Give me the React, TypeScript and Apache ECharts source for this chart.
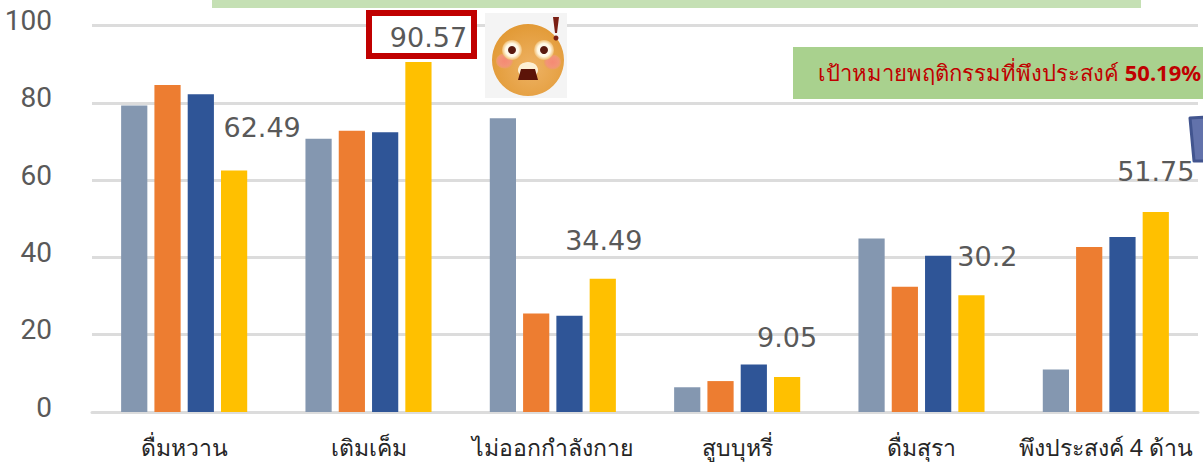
import React, { useEffect, useRef } from "react";
import * as echarts from "echarts";

const categories = ["ดื่มหวาน", "เติมเค็ม", "ไม่ออกกำลังกาย", "สูบบุหรี่", "ดื่มสุรา", "พึงประสงค์ 4 ด้าน"];
const series1 = [79.3, 70.7, 76, 6.4, 44.9, 11];
const series2 = [84.6, 72.8, 25.5, 8, 32.4, 42.7];
const series3 = [82.2, 72.4, 24.9, 12.3, 40.4, 45.3];
const series4 = [62.49, 90.57, 34.49, 9.05, 30.2, 51.75];
const labelOffsets = [[28, -24], [10, -6], [1, -20], [0, -21], [16, -20], [0, -22]];
const colors = ["#8497b0", "#ed7d31", "#2f5597", "#ffc000"];
const bannerText = "เป้าหมายพฤติกรรมที่พึงประสงค์ ";
const bannerValue = "50.19%";

export default function App() {
  const ref = useRef<HTMLDivElement>(null);
  useEffect(() => {
    const chart = echarts.init(ref.current!, undefined, { renderer: "svg" });
    const bar = (name: string, data: number[], color: string) => ({
      type: "bar", name, data, barGap: "27%", barCategoryGap: "31.6%",
      itemStyle: { color },
    });
    const last: any = bar("s4", series4, colors[3]);
    last.data = series4.map((value, i) => ({
      value,
      label: {
        show: true, position: "top", offset: labelOffsets[i],
        formatter: String(value),
        fontFamily: "DejaVu Sans", fontSize: 27, color: "#595959",
      },
    }));
    const face = new echarts.graphic.RadialGradient(0.55, 0.6, 0.6, [
      { offset: 0, color: "#eeb264" }, { offset: 1, color: "#e29a36" },
    ]);
    const eye = new echarts.graphic.RadialGradient(0.5, 0.5, 0.5, [
      { offset: 0, color: "#ffffff" }, { offset: 0.65, color: "#fff8e4" }, { offset: 1, color: "#f0bc70" },
    ]);
    const cheek = new echarts.graphic.RadialGradient(0.5, 0.5, 0.5, [
      { offset: 0, color: "#f58a74" }, { offset: 0.7, color: "#f39478" }, { offset: 1, color: "#eba060" },
    ]);
    chart.setOption({
      animation: false,
      grid: { left: 92, right: 5, top: 25.5, bottom: 53 },
      xAxis: {
        type: "category", data: categories,
        axisTick: { show: false },
        axisLine: { lineStyle: { color: "#dcdcdc", width: 3 } },
        axisLabel: { fontFamily: "Noto Sans, sans-serif", fontSize: 23, color: "#262626", margin: 23, interval: 0 },
      },
      yAxis: {
        type: "value", min: 0, max: 100, interval: 20,
        axisLine: { show: false }, axisTick: { show: false },
        splitLine: { lineStyle: { color: "#dcdcdc", width: 3 } },
        axisLabel: { fontFamily: "Roboto", fontSize: 28, color: "#595959", margin: 40, verticalAlign: "bottom", lineHeight: 10 },
      },
      series: [bar("s1", series1, colors[0]), bar("s2", series2, colors[1]), bar("s3", series3, colors[2]), last],
      graphic: [
        { type: "rect", z: 1, shape: { x: 212, y: 0, width: 929, height: 8 }, style: { fill: "#c5e0b4" } },
        { type: "rect", z: 1, shape: { x: 369, y: 13, width: 105, height: 43 }, style: { fill: "#fff", stroke: "#c00000", lineWidth: 6 } },
        { type: "rect", z: 1, shape: { x: 793, y: 47, width: 410, height: 52 }, style: { fill: "#a9d18e" } },
        { type: "text", z: 3, x: 818, y: 72, style: {
            rich: {
              a: { fontFamily: "Noto Sans, sans-serif", fontSize: 22, fontWeight: "normal", fill: "#c00000", color: "#c00000" },
              b: { fontFamily: "Noto Sans, sans-serif", fontSize: 22, fontWeight: "bold", fill: "#c00000", color: "#c00000" },
            },
            text: `{a|${bannerText}}{b|${bannerValue}}`, verticalAlign: "middle",
          } },
        { type: "polygon", z: 3, shape: { points: [[1190, 118], [1205, 117], [1205, 161], [1194, 161]] }, style: { fill: "#6272ab", stroke: "#42558f", lineWidth: 3, lineJoin: "round" } },
        { type: "rect", z: 3, shape: { x: 485, y: 13, width: 82, height: 85 }, style: { fill: "#f4f4f4" } },
        { type: "circle", z: 4, shape: { cx: 528, cy: 60, r: 36 }, style: { fill: face } },
        { type: "ellipse", z: 5, shape: { cx: 504.5, cy: 61, rx: 8.5, ry: 7.5 }, style: { fill: cheek } },
        { type: "ellipse", z: 5, shape: { cx: 552.5, cy: 62, rx: 8.5, ry: 7.5 }, style: { fill: cheek } },
        { type: "circle", z: 5, shape: { cx: 512, cy: 50, r: 10 }, style: { fill: eye } },
        { type: "circle", z: 5, shape: { cx: 544, cy: 50, r: 10 }, style: { fill: eye } },
        { type: "circle", z: 6, shape: { cx: 512, cy: 50, r: 4 }, style: { fill: "#5a1a10" } },
        { type: "circle", z: 6, shape: { cx: 544, cy: 50, r: 4 }, style: { fill: "#5a1a10" } },
        { type: "ellipse", z: 5, shape: { cx: 528, cy: 70, rx: 10, ry: 8 }, style: { fill: "#fdf0d4" } },
        { type: "polygon", z: 6, shape: { points: [[521, 69], [535, 69], [538, 80], [518, 80]] }, style: { fill: "#5c1408" } },
        { type: "polygon", z: 5, shape: { points: [[553, 17], [559, 17], [557, 33], [555, 33]] }, style: { fill: "#7a1f14" } },
        { type: "circle", z: 5, shape: { cx: 556, cy: 38, r: 2.5 }, style: { fill: "#7a1f14" } },
      ],
    });
    return () => chart.dispose();
  }, []);
  return <div ref={ref} style={{ position: "absolute", left: 0, top: 0, width: 1203, height: 465 }} />;
}
